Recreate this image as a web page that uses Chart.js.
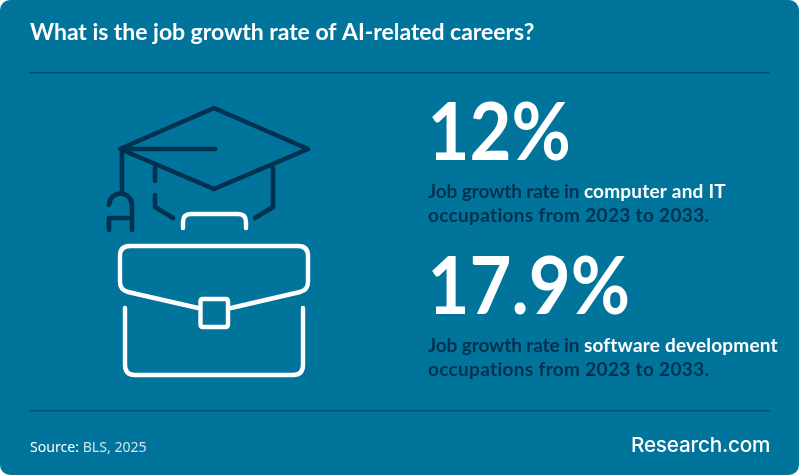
<!DOCTYPE html>
<html><head><meta charset="utf-8">
<style>html,body{margin:0;padding:0;background:#fff}canvas{display:block}</style>
<script src="https://cdn.jsdelivr.net/npm/chart.js@4"></script>
</head><body><canvas id="c" width="799" height="475" style="width:799px;height:475px"></canvas>
<script>
const titleText = "What is the job growth rate of AI-related careers?";
const categories = ["computer and IT", "software development"];
const values = [12, 17.9];
const leadIn = "Job growth rate in ";
const periodText = "occupations from 2023 to 2033.";
const sourceLabel = "Source:";
const sourceName = "BLS, 2025";
const brandName = "Research.com";

const BG = "#00749b", DARK = "#003150", RULE = "#005070", WHITE = "#ffffff";

function strokePath(ctx, color, width, fn){
  ctx.save();
  ctx.strokeStyle = color; ctx.lineWidth = width;
  ctx.lineCap = "round"; ctx.lineJoin = "round";
  ctx.beginPath(); fn(ctx); ctx.stroke();
  ctx.restore();
}
function text(ctx, s, x, y, font, color, spacing){
  ctx.font = font; ctx.fillStyle = color;
  ctx.letterSpacing = spacing || "0px";
  ctx.fillText(s, x, y);
  return ctx.measureText(s).width;
}
const infographic = {
  id: "infographic",
  beforeDraw(chart){
    const ctx = chart.ctx;
    ctx.save();
    ctx.fillStyle = BG;
    ctx.beginPath(); ctx.roundRect(0, 0, 799, 475, 10); ctx.fill();
    ctx.fillStyle = RULE;
    ctx.fillRect(29, 72, 741, 1.6);
    ctx.fillRect(29, 410, 741, 1.6);

    // mortarboard
    strokePath(ctx, DARK, 4.6, c => {
      c.moveTo(214,108); c.lineTo(308,149); c.lineTo(214,189); c.lineTo(120,149); c.closePath();
      c.moveTo(122,149); c.lineTo(215,149);
      c.moveTo(122,150); c.lineTo(122,193);
      c.moveTo(109,204); c.arc(120.5,205,11.5,Math.PI,0); c.lineTo(132,230);
      c.moveTo(109,230); c.lineTo(109,218); c.lineTo(132,218);
      c.moveTo(155,168); c.lineTo(155,181);
      c.moveTo(155,195); c.lineTo(155,207); c.lineTo(173,218);
      c.moveTo(273,168); c.lineTo(273,207); c.lineTo(255,218);
    });
    // briefcase
    strokePath(ctx, WHITE, 4.4, c => {
      c.moveTo(183,228); c.lineTo(183,222); c.quadraticCurveTo(183,214,191,214);
      c.lineTo(238,214); c.quadraticCurveTo(246,214,246,222); c.lineTo(246,228);
      c.moveTo(198,308); c.lineTo(128,292); c.quadraticCurveTo(120,290,120,282);
      c.lineTo(120,256); c.quadraticCurveTo(120,246,130,246);
      c.lineTo(298,246); c.quadraticCurveTo(308,246,308,256);
      c.lineTo(308,282); c.quadraticCurveTo(308,290,300,292); c.lineTo(231,308);
      c.moveTo(125,308); c.lineTo(125,365); c.quadraticCurveTo(125,375,135,375);
      c.lineTo(293,375); c.quadraticCurveTo(303,375,303,365); c.lineTo(303,308);
      c.roundRect(200.5,299,27.5,28,2);
    });

    ctx.textBaseline = "alphabetic"; ctx.textAlign = "left";
    text(ctx, titleText, 30, 40, "700 23px Lato", WHITE, "-0.04px");
    const w = text(ctx, sourceLabel + " ", 30, 452, "14.1px 'Noto Sans'", WHITE);
    text(ctx, sourceName, 30 + w, 452, "14.1px 'Noto Sans'", "#cfe3ea");
    text(ctx, brandName, 631, 452, "500 20.7px Inter", WHITE, "-0.2px");
    ctx.letterSpacing = "0px";
    ctx.restore();
  },
  afterDraw(chart){
    const ctx = chart.ctx, y = chart.scales.y;
    ctx.save();
    ctx.textBaseline = "alphabetic"; ctx.textAlign = "left";
    categories.forEach((cat, i) => {
      const cy = y.getPixelForTick(i);
      ctx.save();
      ctx.translate(427.5, cy + 27);
      ctx.scale(0.905, 1);
      text(ctx, values[i] + "%", 0, 0, "700 80px Lato", WHITE);
      ctx.restore();
      const lw = text(ctx, leadIn, 428, cy + 65, "700 19px Lato", DARK, "-0.1px");
      text(ctx, cat, 428 + lw, cy + 65, "700 19px Lato", WHITE, "0.2px");
      text(ctx, periodText, 428, cy + 89, "700 19px Lato", DARK, "0.33px");
    });
    ctx.restore();
  }
};
new Chart(document.getElementById("c"), {
  type: "bar",
  data: { labels: categories, datasets: [{ data: values, backgroundColor: "rgba(0,0,0,0)", borderWidth: 0 }] },
  options: {
    indexAxis: "y", responsive: false, animation: false, devicePixelRatio: 1,
    layout: { padding: { top: 56.25, bottom: 111.75, left: 430, right: 29 } },
    plugins: { legend: { display: false }, tooltip: { enabled: false }, title: { display: false } },
    scales: { x: { display: false, min: 0, max: 100 }, y: { display: false } }
  },
  plugins: [infographic]
});
</script></body></html>
